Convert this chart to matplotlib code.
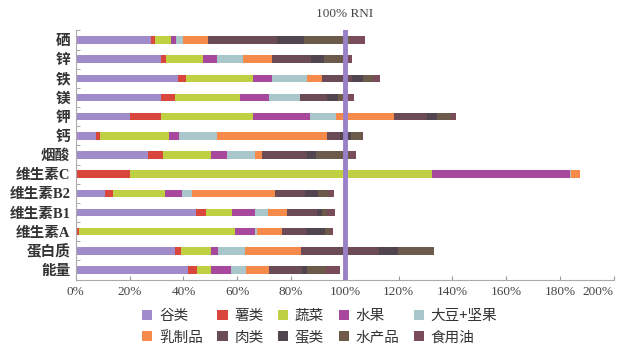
import numpy as np
import matplotlib
matplotlib.use('Agg')
import matplotlib.pyplot as plt
from matplotlib.patches import Patch

plt.rcParams['font.family'] = ['Liberation Serif', 'Noto Sans CJK SC', 'DejaVu Sans']

# nutrients, bottom to top
nutrients = ['能量', '蛋白质', '维生素A', '维生素B1', '维生素B2', '维生素C', '烟酸',
             '钙', '钾', '镁', '铁', '锌', '硒']

food_groups = ['谷类', '薯类', '蔬菜', '水果', '大豆+坚果',
               '乳制品', '肉类', '蛋类', '水产品', '食用油']

colors = ['#a08bcb', '#d9463c', '#bfd042', '#a8489c', '#a9c7cb',
          '#f58a4a', '#6b4c56', '#51464f', '#6c5a4b', '#7a4b58']

# % of RNI contributed by each food group (rows follow nutrients order)
cereal  = [41.6, 37.0, 0.0, 44.7, 10.9, 0.0, 26.8, 7.4, 20.2, 31.7, 38.1, 31.5, 27.8]
tuber   = [3.3, 2.1, 1.2, 3.8, 2.9, 20.2, 5.5, 1.7, 11.3, 5.0, 2.9, 2.1, 1.5]
veg     = [5.2, 11.0, 57.9, 9.5, 19.4, 112.1, 18.1, 25.5, 34.4, 24.2, 24.9, 13.6, 6.1]
fruit   = [7.4, 2.7, 7.4, 8.7, 6.3, 51.3, 5.8, 3.9, 21.1, 11.0, 7.2, 5.1, 1.9]
soy     = [5.9, 10.0, 0.7, 4.9, 3.6, 0.5, 10.3, 13.8, 9.8, 11.4, 12.9, 9.7, 2.4]
dairy   = [8.5, 20.8, 9.3, 6.9, 30.9, 3.2, 2.6, 40.9, 21.3, 0.0, 5.6, 10.8, 9.3]
meat    = [12.2, 29.0, 9.0, 11.0, 11.0, 0.0, 17.0, 5.0, 12.3, 10.0, 11.0, 14.5, 25.8]
egg     = [2.0, 7.0, 7.0, 2.0, 5.0, 0.0, 3.0, 4.0, 4.0, 4.0, 4.0, 5.0, 10.0]
aquatic = [7.0, 13.4, 2.0, 2.0, 4.0, 0.0, 13.0, 4.0, 5.0, 4.0, 4.0, 7.0, 17.0]
oil     = [5.0, 0.0, 1.2, 3.0, 1.9, 0.0, 2.2, 0.5, 2.1, 2.0, 2.6, 3.2, 5.6]

series = [cereal, tuber, veg, fruit, soy, dairy, meat, egg, aquatic, oil]

xticks = [0, 20, 40, 60, 80, 100, 120, 140, 160, 180, 200]
xtick_labels = ['0%', '20%', '40%', '60%', '80%', '100%', '120%', '140%',
                '160%', '180%', '200%']

fig = plt.figure(figsize=(6.27, 3.58), dpi=100)
ax = fig.add_axes([0.121, 0.218, 0.858, 0.698])

y = np.arange(len(nutrients))
left = np.zeros(len(nutrients))
for vals, name, c in zip(series, food_groups, colors):
    vals = np.array(vals)
    ax.barh(y, vals, left=left, height=0.39, color=c, label=name, linewidth=0)
    left += vals

# 100% RNI reference line
ax.axvline(100, color='#9a80c8', linewidth=3.5, zorder=5)
ax.text(100, 13.05, '100% RNI', ha='center', va='bottom', fontsize=9.5,
        color='#444444', family=['Liberation Serif'])

ax.set_xlim(0, 200)
ax.set_ylim(-0.52, 12.52)
ax.set_xticks(xticks)
ax.set_xticklabels(xtick_labels, fontsize=9.5, color='#444444')
ax.get_xticklabels()[-1].set_horizontalalignment('right')
ax.set_yticks(y)
ax.set_yticklabels(nutrients, fontsize=10.5, fontweight='bold', color='#333333')
ax.set_yticks(np.arange(-0.5, 13, 1), minor=True)
ax.tick_params(axis='y', which='major', length=0, pad=4)
ax.tick_params(axis='y', which='minor', direction='in', length=3, color='#999999')
ax.tick_params(axis='x', which='major', direction='in', length=3, color='#999999', pad=4)

for side in ['top', 'right']:
    ax.spines[side].set_visible(False)
for side in ['left', 'bottom']:
    ax.spines[side].set_color('#aaaaaa')
    ax.spines[side].set_linewidth(0.8)

# legend: two rows of five, filled row by row
order = [0, 5, 1, 6, 2, 7, 3, 8, 4, 9]
handles = [Patch(facecolor=colors[i], label=food_groups[i]) for i in order]
leg = fig.legend(handles=handles, ncol=5, loc='center',
                 bbox_to_anchor=(0.51, 0.087), frameon=False,
                 prop={'family': ['Noto Sans CJK SC'], 'size': 10.5},
                 handlelength=0.7, handleheight=0.7, handletextpad=0.45,
                 columnspacing=1.0, labelspacing=0.5)
for t in leg.get_texts():
    t.set_color('#333333')

fig.savefig('out.png', dpi=100, facecolor='white')
